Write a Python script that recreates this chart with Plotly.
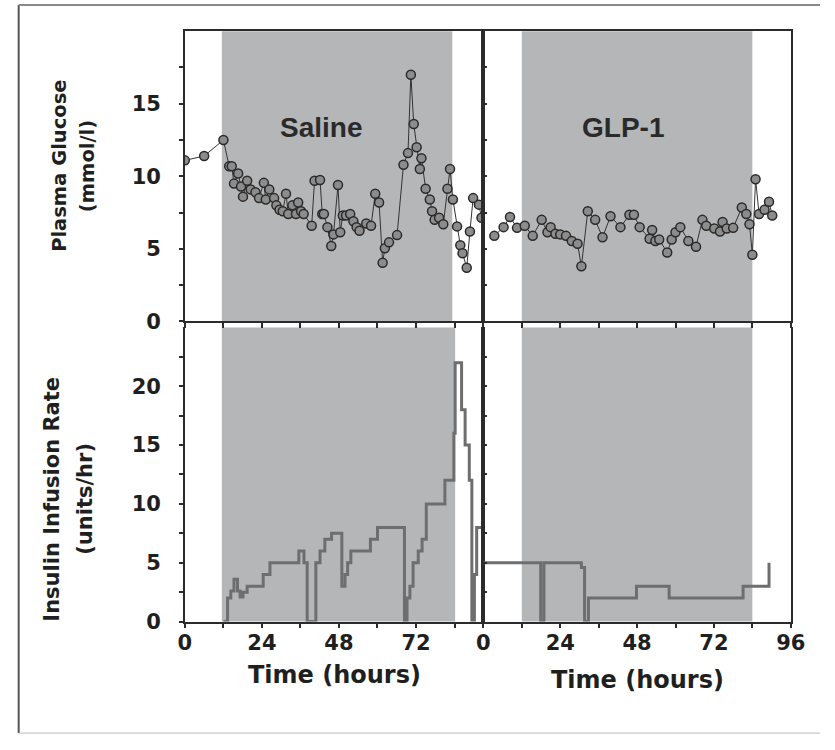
import plotly.graph_objects as go

# ---------------- data ----------------
saline_glucose_hours = [0, 6, 12, 13.8, 14.6, 15.3, 16.6, 17.5, 18.1, 19.4, 20.5, 22.0, 23.1,
                        24.6, 25.2, 26.3, 27.8, 28.5, 29.5, 30.5, 31.5, 32.2, 33.5,
                        34.6, 35.3, 36.2, 37.0, 39.5, 40.4, 42.1, 42.8, 43.3, 44.4,
                        45.6, 46.3, 47.7, 48.4, 49.2, 50.2, 51.5, 52.5, 53.5, 54.4,
                        56.5, 58.0, 59.3, 60.5, 61.6, 62.3, 63.6, 66.1, 68.1, 69.5,
                        70.4, 71.3, 72.2, 73.2, 73.7, 75.0, 76.3, 77.0, 77.8, 79.2,
                        80.5, 81.8, 82.6, 83.5, 84.8, 85.8, 86.5, 87.8, 88.8, 89.8,
                        91.6, 92.4]
saline_glucose_values = [11.1, 11.4, 12.5, 10.7, 10.7, 9.5, 10.2, 9.3, 8.6, 9.7, 9.1, 8.9, 8.5,
                         9.55, 8.4, 9.1, 8.5, 8.0, 7.7, 7.6, 8.8, 7.4, 8.0,
                         7.4, 8.2, 7.6, 7.4, 6.6, 9.7, 9.75, 7.4, 7.4, 6.5,
                         5.2, 6.0, 9.4, 6.15, 7.3, 7.3, 7.4, 6.9, 6.5, 6.25,
                         6.75, 6.6, 8.8, 8.2, 4.05, 5.05, 5.45, 5.95, 10.8, 11.6,
                         17.0, 13.6, 12.0, 10.5, 11.25, 9.15, 8.4, 7.6, 7.0, 7.15,
                         6.7, 9.15, 10.5, 8.4, 6.55, 5.25, 4.7, 3.7, 6.2, 8.5,
                         8.05, 7.15]

glp1_glucose_hours = [3.4, 6.3, 8.3, 10.5, 12.9, 15.4, 18.2, 20.0, 21.0, 22.5,
                      24.0, 25.8, 27.6, 29.4, 30.6, 32.6, 34.9, 37.2, 39.7, 42.8,
                      45.6, 47.0, 48.8, 51.9, 52.7, 53.7, 54.9, 57.4, 58.8, 60.0,
                      61.5, 64.0, 66.4, 68.4, 69.6, 72.1, 73.9, 74.7, 76.0, 78.0,
                      80.7, 82.1, 83.1, 84.0, 85.0, 86.1, 87.8, 89.2, 90.2]
glp1_glucose_values = [5.9, 6.5, 7.2, 6.45, 6.6, 5.9, 7.0, 6.15, 6.5, 6.05,
                       6.0, 5.9, 5.55, 5.35, 3.8, 7.6, 7.0, 5.8, 7.25, 6.5,
                       7.35, 7.35, 6.5, 5.7, 6.3, 5.55, 5.65, 4.75, 5.65, 6.15,
                       6.5, 5.55, 5.15, 7.0, 6.6, 6.4, 6.2, 6.85, 6.4, 6.45,
                       7.85, 7.4, 6.7, 4.6, 9.8, 7.4, 7.7, 8.25, 7.3]

saline_insulin_hours = [12, 13.3, 14.3, 15.3, 16.4, 17.2, 18.1, 19.4, 24.4, 26.5,
                        35.5, 37.1, 38.1, 40.8, 42.1, 43.6, 45.7, 48.9, 49.9, 50.7,
                        51.7, 57.8, 60.0, 68.4, 69.2, 70.1, 71.1, 72.7, 73.9, 75.2,
                        81.0, 83.8, 84.2, 86.2, 87.3, 88.6, 89.4, 90.2, 90.9, 93]
saline_insulin_values = [0, 2.0, 2.6, 3.6, 2.6, 2.1, 2.5, 3.0, 4.0, 5.0,
                         6.0, 5.0, 0, 5.0, 6.0, 7.0, 7.5, 3.0, 4.0, 5.0,
                         6.0, 7.0, 8.0, 0, 2.0, 3.0, 5.0, 6.0, 7.0, 10.0,
                         12.0, 16.0, 22.0, 18.0, 15.0, 12.0, 0, 4.0, 8.0, 8.0]

glp1_insulin_hours = [0, 17.9, 18.9, 30.6, 31.6, 32.8, 47.8, 58.0, 81.1, 89.2]
glp1_insulin_values = [5.0, 0, 5.0, 4.6, 0, 2.0, 3.0, 2.0, 3.0, 5.0]

panel_labels = ["Saline", "GLP-1"]
glucose_tickvals = [0, 5, 10, 15]
glucose_minor = [2.5, 7.5, 12.5, 17.5]
insulin_tickvals = [0, 5, 10, 15, 20]
insulin_minor = [2.5, 7.5, 12.5, 17.5, 22.5]
left_time_ticks = [0, 24, 48, 72]
right_time_ticks = [0, 24, 48, 72, 96]
left_time_minor = [12, 36, 60, 84]
right_time_minor = [12, 36, 60, 84]
# infusion periods (shaded) per panel: top-left, top-right, bottom-left, bottom-right
shade_start = [11.5, 12, 11.5, 12]
shade_end = [83.3, 84, 84.2, 84]

# ---------------- layout helpers ----------------
W, H = 835, 750
def fx(p):
    return p / W
def fy(p):
    return 1 - p / H

XL0, XM, XR1 = 182.7, 489.3, 805.0
YT0, YT1 = 31.7, 326.7
YB0, YB1 = 332.7, 631.7

AX = "#2b2b2b"
SHADE = "#b5b6b8"
INS = "#6e6e6e"
TICKFONT = dict(family="DejaVu Sans", size=21, color="#1f1f1f", weight="bold")

fig = go.Figure()

MK = dict(size=9, color="#8c8c8c", line=dict(color="#2a2a2a", width=1.5))
fig.add_trace(go.Scatter(x=saline_glucose_hours, y=saline_glucose_values, mode="lines+markers",
                         line=dict(color="#333333", width=1), marker=MK,
                         xaxis="x", yaxis="y", showlegend=False))
fig.add_trace(go.Scatter(x=glp1_glucose_hours, y=glp1_glucose_values, mode="lines+markers",
                         line=dict(color="#333333", width=1), marker=MK,
                         xaxis="x2", yaxis="y2", showlegend=False))
fig.add_trace(go.Scatter(x=saline_insulin_hours, y=saline_insulin_values, mode="lines",
                         line=dict(color=INS, width=3, shape="hv"),
                         xaxis="x3", yaxis="y3", showlegend=False))
fig.add_trace(go.Scatter(x=glp1_insulin_hours, y=glp1_insulin_values, mode="lines",
                         line=dict(color=INS, width=3, shape="hv"),
                         xaxis="x4", yaxis="y4", showlegend=False))

def xaxis(domain, rng, labels, minor, show_labels, mirror, anchor):
    return dict(domain=domain, range=rng, showline=True, linecolor=AX, linewidth=1.5,
                mirror=mirror, ticks="outside", ticklen=5, tickcolor=AX, tickwidth=1.5,
                tickvals=labels, showticklabels=show_labels, tickfont=TICKFONT,
                ticklabelstandoff=-4, anchor=anchor,
                minor=dict(tickvals=minor, ticks="outside", ticklen=5, tickcolor=AX, tickwidth=1.5),
                showgrid=False, zeroline=False, fixedrange=True)

def yaxis(domain, rng, labels, minor, show_labels, ticks, anchor):
    return dict(domain=domain, range=rng, showline=True, linecolor=AX, linewidth=1.5,
                mirror=True, ticks=ticks, ticklen=4, tickcolor=AX, tickwidth=1.5,
                tickvals=labels, showticklabels=show_labels, tickfont=TICKFONT,
                ticklabelstandoff=14, anchor=anchor,
                minor=dict(tickvals=minor, ticks=ticks, ticklen=4, tickcolor=AX, tickwidth=1.5),
                showgrid=False, zeroline=False, fixedrange=True)

dl = [fx(XL0), fx(XM)]
dr = [fx(XM), fx(XR1)]
dt = [fy(YT1), fy(YT0)]
db = [fy(YB1), fy(YB0)]

fig.update_layout(
    width=W, height=H, margin=dict(l=0, r=0, t=0, b=0),
    paper_bgcolor="white", plot_bgcolor="white",
    xaxis=xaxis(dl, [0, 93], left_time_ticks + left_time_minor, [], False, True, "y"),
    xaxis2=xaxis(dr, [0, 96], right_time_ticks + right_time_minor, [], False, True, "y2"),
    xaxis3=xaxis(dl, [0, 93], left_time_ticks, left_time_minor, True, False, "y3"),
    xaxis4=xaxis(dr, [0, 96], right_time_ticks, right_time_minor, True, False, "y4"),
    yaxis=yaxis(dt, [0, 20], glucose_tickvals, glucose_minor, True, "outside", "x"),
    yaxis2=yaxis(dt, [0, 20], glucose_tickvals, glucose_minor, False, "inside", "x2"),
    yaxis3=yaxis(db, [0, 25], insulin_tickvals, insulin_minor, True, "outside", "x3"),
    yaxis4=yaxis(db, [0, 25], insulin_tickvals, insulin_minor, False, "inside", "x4"),
)

shapes = []
refs = [("x", "y"), ("x2", "y2"), ("x3", "y3"), ("x4", "y4")]
for (xr, yr), s0, s1 in zip(refs, shade_start, shade_end):
    shapes.append(dict(type="rect", xref=xr, yref=yr + " domain", x0=s0, x1=s1, y0=0, y1=1,
                       fillcolor=SHADE, line=dict(width=0), layer="below"))
# outer frame
shapes.append(dict(type="line", xref="paper", yref="paper", x0=fx(12), x1=fx(12), y0=fy(5), y1=fy(745),
                   line=dict(color="#555555", width=2)))
shapes.append(dict(type="line", xref="paper", yref="paper", x0=fx(12), x1=1, y0=fy(5), y1=fy(5),
                   line=dict(color="#8a8a8a", width=2)))
shapes.append(dict(type="line", xref="paper", yref="paper", x0=fx(12), x1=1, y0=fy(745), y1=fy(745),
                   line=dict(color="#bbbbbb", width=1)))
fig.update_layout(shapes=shapes)

TITLE = dict(family="DejaVu Sans", color="#1f1f1f", weight="bold")
ann = [
    dict(text=panel_labels[0], x=fx(323), y=fy(130),
         font=dict(family="Liberation Sans", size=28, color="#2a2a2a", weight="bold")),
    dict(text=panel_labels[1], x=fx(633), y=fy(130),
         font=dict(family="Liberation Sans", size=28, color="#2a2a2a", weight="bold")),
    dict(text="Plasma Glucose", x=fx(54), y=fy(169), textangle=-90, font=dict(size=19.5, **TITLE)),
    dict(text="(mmol/l)", x=fx(82), y=fy(169), textangle=-90, font=dict(size=19.5, **TITLE)),
    dict(text="Insulin Infusion Rate", x=fx(46), y=fy(507), textangle=-90, font=dict(size=21, **TITLE)),
    dict(text="(units/hr)", x=fx(80), y=fy(507), textangle=-90, font=dict(size=21, **TITLE)),
    dict(text="Time (hours)", x=fx(336), y=fy(686), font=dict(size=24, **TITLE)),
    dict(text="Time (hours)", x=fx(648), y=fy(691), font=dict(size=24, **TITLE)),
]
for a in ann:
    a.update(xref="paper", yref="paper", showarrow=False, xanchor="center", yanchor="middle")
fig.update_layout(annotations=ann)

js = ("var s='margin:0;padding:0;overflow:hidden;';"
      "document.documentElement.style.cssText=s;document.body.style.cssText=s;")
fig.write_html("out.html", config={"displayModeBar": False}, post_script=js)
